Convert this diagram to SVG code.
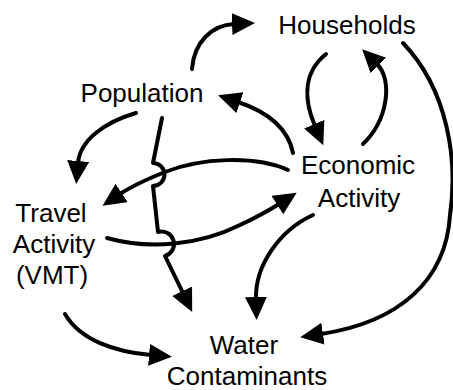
<svg xmlns="http://www.w3.org/2000/svg" width="453" height="390" viewBox="0 0 453 390">
<defs>
<style>
.lbl{font-family:"Liberation Sans",Arial,sans-serif;font-size:26px;fill:#000;text-anchor:middle}
.c{fill:none;stroke:#000;stroke-width:4;stroke-linecap:round;stroke-linejoin:round}
.a{marker-end:url(#ah)}
</style>
<marker id="ah" markerWidth="26" markerHeight="24" refX="2" refY="11" orient="auto" markerUnits="userSpaceOnUse">
<path d="M0,0 L23,11 L0,22 Z" fill="#000"/>
</marker>
</defs>
<rect width="453" height="390" fill="#fff"/>
<g id="connectors">
<path class="c a" d="M192,69 C194,42 212,25 234,24"/>
<path class="c a" d="M326,54 C300,75 306,105 315,126"/>
<path class="c a" d="M363,144 C388,120 393,80 377,64"/>
<path class="c a" d="M293,153 C288,128 268,112 238,102"/>
<path class="c a" d="M403,43 C448,90 458,160 450,215 C446,280 400,322 321,334"/>
<path class="c a" d="M313,215 C280,230 255,265 256,299"/>
<path class="c a" d="M136,113 C105,122 80,140 78,163"/>
<path class="c a" d="M162,118 L153,163 A11.5,11.5 0 0,1 153,186 L158,232 A12.5,12.5 0 0,1 165,256 L183,293"/>
<path class="c a" d="M288,170 C255,155 200,158 165,172 C145,180 132,186 120,194"/>
<path class="c a" d="M107,238 C150,250 200,245 240,225 C255,218 268,211 279,204"/>
<path class="c a" d="M65,314 C80,340 115,352 151,355"/>
</g>
<g id="households"><text class="lbl" x="347" y="34">Households</text></g>
<g id="population"><text class="lbl" x="142" y="102">Population</text></g>
<g id="economic-activity"><text class="lbl" x="358" y="174">Economic</text><text class="lbl" x="359" y="207">Activity</text></g>
<g id="travel-activity"><text class="lbl" x="51" y="222">Travel</text><text class="lbl" x="54" y="253">Activity</text><text class="lbl" x="52" y="284">(VMT)</text></g>
<g id="water-contaminants"><text class="lbl" x="244" y="354">Water</text><text class="lbl" x="247" y="385">Contaminants</text></g>
</svg>
